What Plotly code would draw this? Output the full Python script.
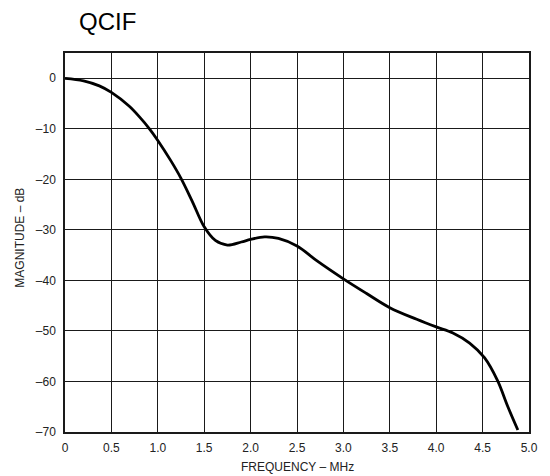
import plotly.graph_objects as go

freq_mhz = [0, 0.2, 0.37, 0.5, 0.69, 0.8, 0.91, 1.0, 1.14, 1.25, 1.37, 1.5, 1.62, 1.75, 1.9,
            2.0, 2.15, 2.3, 2.5, 2.72, 3.0, 3.25, 3.5, 3.79, 4.0, 4.18, 4.36, 4.52, 4.66, 4.77, 4.88]
magnitude_db = [0, -0.5, -1.5, -2.8, -5.5, -7.6, -10, -12.3, -16.3, -19.8, -24.3, -29.4, -32.1, -33.0, -32.4,
                -31.9, -31.4, -31.7, -33.2, -36.2, -39.7, -42.6, -45.4, -47.7, -49.2, -50.4, -52.4, -55.3, -59.8, -64.9, -69.6]

x_tick_vals = [0, 0.5, 1.0, 1.5, 2.0, 2.5, 3.0, 3.5, 4.0, 4.5, 5.0]
x_tick_text = ["0", "0.5", "1.0", "1.5", "2.0", "2.5", "3.0", "3.5", "4.0", "4.5", "5.0"]
y_tick_vals = [0, -10, -20, -30, -40, -50, -60, -70]
y_tick_text = ["0", "–10", "–20", "–30", "–40", "–50", "–60", "–70"]

FONT = "Liberation Sans, Arial, sans-serif"

fig = go.Figure()
fig.add_trace(go.Scatter(
    x=freq_mhz, y=magnitude_db, mode="lines",
    line=dict(color="black", width=2.8, shape="spline", smoothing=1.0),
    hoverinfo="skip", showlegend=False,
))

axis_common = dict(
    showgrid=True, gridcolor="#1a1a1a", gridwidth=1.3,
    showline=True, linecolor="#1a1a1a", linewidth=1.5, mirror=True,
    zeroline=False, ticks="",
    tickfont=dict(family=FONT, size=12, color="#222"),
)

fig.update_xaxes(range=[0, 5], tickvals=x_tick_vals, ticktext=x_tick_text,
                 ticklabelstandoff=4, **axis_common)
fig.update_yaxes(range=[-70, 5], tickvals=y_tick_vals, ticktext=y_tick_text,
                 ticklabelstandoff=5, **axis_common)

fig.add_annotation(text="QCIF", xref="paper", yref="paper", x=0.0256, y=1.082,
                   xanchor="left", yanchor="middle", showarrow=False,
                   font=dict(family=FONT, size=24, color="black"))
fig.add_annotation(text="MAGNITUDE – dB", xref="paper", yref="paper", x=-0.096, y=0.514,
                   xanchor="center", yanchor="middle", textangle=-90, showarrow=False,
                   font=dict(family=FONT, size=12, color="#222"))
fig.add_annotation(text="FREQUENCY – MHz", xref="paper", yref="paper", x=0.502, y=-0.092,
                   xanchor="center", yanchor="middle", showarrow=False,
                   font=dict(family=FONT, size=12, color="#222"))

# the page body adds an 8px margin, so the figure is sized to fit inside the 550x476 window
fig.update_layout(
    width=542, height=468,
    margin=dict(l=57, r=17, t=45, b=44),
    paper_bgcolor="white", plot_bgcolor="white",
)

fig.write_html("out.html")
